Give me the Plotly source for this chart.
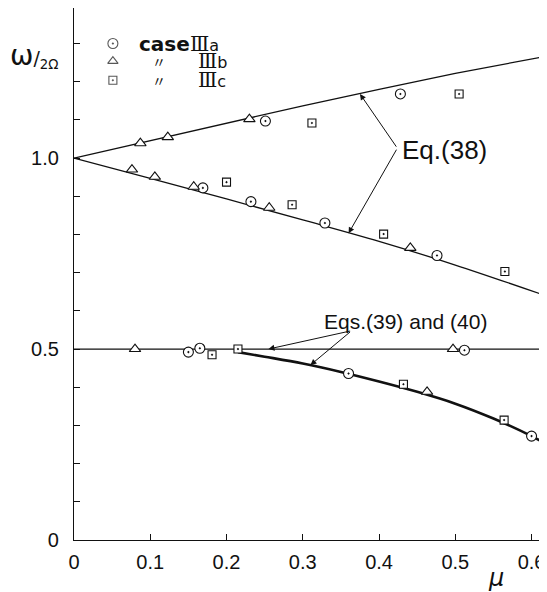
import plotly.graph_objects as go

# ---- theoretical curves ----
eq38_mu = [0, 0.1, 0.2, 0.3, 0.4, 0.5, 0.615]
eq38_upper = [1.0, 1.046, 1.092, 1.137, 1.180, 1.222, 1.265]
eq38_lower = [1.0, 0.947, 0.893, 0.838, 0.782, 0.720, 0.642]

half_mu = [0, 0.615]
half_val = [0.5, 0.5]

eq40_mu = [0.215, 0.25, 0.30, 0.35, 0.40, 0.45, 0.50, 0.55, 0.60, 0.615]
eq40_val = [0.492, 0.480, 0.462, 0.440, 0.415, 0.388, 0.357, 0.318, 0.272, 0.256]

# ---- experimental points ----
case_a_mu = [0.251, 0.428, 0.169, 0.232, 0.329, 0.476, 0.150, 0.165, 0.512, 0.36, 0.600]
case_a_w = [1.097, 1.168, 0.922, 0.886, 0.830, 0.745, 0.492, 0.502, 0.497, 0.436, 0.272]

case_b_mu = [0.087, 0.123, 0.230, 0.076, 0.106, 0.157, 0.256, 0.441, 0.080, 0.497, 0.463]
case_b_w = [1.039, 1.055, 1.102, 0.970, 0.951, 0.925, 0.870, 0.765, 0.500, 0.500, 0.388]

case_c_mu = [0.312, 0.505, 0.200, 0.286, 0.406, 0.565, 0.181, 0.215, 0.432, 0.564]
case_c_w = [1.092, 1.168, 0.937, 0.878, 0.801, 0.703, 0.485, 0.500, 0.408, 0.314]

legend_mu = [0.051, 0.051, 0.051]
legend_w = [1.300, 1.254, 1.204]

x_ticks = [0, 0.1, 0.2, 0.3, 0.4, 0.5, 0.6]
x_ticktext = ["0", "0.1", "0.2", "0.3", "0.4", "0.5", "0.6"]
y_ticks = [round(i * 0.1, 1) for i in range(14)]
y_ticktext = ["0", "", "", "", "", "0.5", "", "", "", "", "1.0", "", "", ""]

FONT = "Liberation Sans"
BLACK = "#111"

fig = go.Figure()

line_thin = dict(color=BLACK, width=1.3)
fig.add_trace(go.Scatter(x=eq38_mu, y=eq38_upper, mode="lines", line=line_thin, hoverinfo="skip"))
fig.add_trace(go.Scatter(x=eq38_mu, y=eq38_lower, mode="lines", line=dict(color=BLACK, width=1.3, shape="spline"), hoverinfo="skip"))
fig.add_trace(go.Scatter(x=half_mu, y=half_val, mode="lines", line=dict(color=BLACK, width=1.2), hoverinfo="skip"))
fig.add_trace(go.Scatter(x=eq40_mu, y=eq40_val, mode="lines", line=dict(color=BLACK, width=2.6, shape="spline"), hoverinfo="skip"))

mk_line = dict(color=BLACK, width=1.1)
fig.add_trace(go.Scatter(x=case_a_mu, y=case_a_w, mode="markers",
                         marker=dict(symbol="circle-dot", size=10, color="white", line=mk_line)))
fig.add_trace(go.Scatter(x=case_b_mu, y=case_b_w, mode="markers",
                         marker=dict(symbol="triangle-up", size=10, color="white", line=mk_line)))
fig.add_trace(go.Scatter(x=case_c_mu, y=case_c_w, mode="markers",
                         marker=dict(symbol="square-dot", size=8, color="white", line=mk_line)))

# legend markers
fig.add_trace(go.Scatter(x=legend_mu, y=legend_w, mode="markers",
                         marker=dict(symbol=["circle-dot", "triangle-up", "square-dot"], size=[10, 9, 8],
                                     color="white", line=mk_line)))

annotations = []
# legend text
annotations.append(dict(x=0.082, y=legend_w[0], xref="x", yref="y", xanchor="left", yanchor="middle",
                        text="<b>case</b>", showarrow=False, font=dict(family="DejaVu Sans", size=20, color=BLACK)))
for w, sfx in zip(legend_w, ["a", "b", "c"]):
    xx = 0.150 if sfx == "a" else 0.160
    annotations.append(dict(x=xx, y=w, xref="x", yref="y", xanchor="left", yanchor="middle",
                            text="Ⅲ<span style='font-family:DejaVu Sans;font-size:16px'>" + sfx + "</span>",
                            showarrow=False, font=dict(family="DejaVu Serif", size=20, color=BLACK)))
for w in legend_w[1:]:
    annotations.append(dict(x=0.112, y=w, xref="x", yref="y", xanchor="center", yanchor="middle",
                            text="〃", showarrow=False, font=dict(family="Noto Sans CJK JP", size=14, color=BLACK)))

# Eq.(38)
annotations.append(dict(x=0.428, y=1.021, xref="x", yref="y", xanchor="left", yanchor="middle",
                        text="Eq.(38)", showarrow=False, font=dict(family=FONT, size=26, color=BLACK)))
for hx, hy in [(0.375, 1.168), (0.36, 0.803)]:
    annotations.append(dict(x=hx, y=hy, ax=0.424, ay=1.026, xref="x", yref="y", axref="x", ayref="y",
                            text="", showarrow=True, arrowhead=2, arrowsize=1.2, arrowwidth=1, arrowcolor=BLACK))

# Eqs.(39) and (40)
annotations.append(dict(x=0.325, y=0.572, xref="x", yref="y", xanchor="left", yanchor="middle",
                        text="Eqs.(39) and (40)", showarrow=False, font=dict(family=FONT, size=21, color=BLACK)))
for hx, hy in [(0.255, 0.5), (0.31, 0.458)]:
    annotations.append(dict(x=hx, y=hy, ax=0.364, ay=0.548, xref="x", yref="y", axref="x", ayref="y",
                            text="", showarrow=True, arrowhead=2, arrowsize=1.2, arrowwidth=1, arrowcolor=BLACK))

# axis titles (paper coords; plot area is 469 x 532 px)
annotations.append(dict(x=-0.141, y=0.91, xref="paper", yref="paper", xanchor="left", yanchor="middle",
                        text="ω<span style='font-size:19px'>/<sub>2Ω</sub></span>", showarrow=False,
                        font=dict(family="DejaVu Sans", size=28, color=BLACK)))
annotations.append(dict(x=0.90, y=-0.072, xref="paper", yref="paper", xanchor="center", yanchor="middle",
                        text="<i>μ</i>", showarrow=False, font=dict(family="DejaVu Sans", size=24, color=BLACK)))

# The page adds an 8 px body margin, so the figure is 8 px smaller and margins shifted.
fig.update_layout(
    width=539, height=584,
    margin=dict(l=66, r=4, t=0, b=52),
    paper_bgcolor="white", plot_bgcolor="white",
    showlegend=False,
    font=dict(family=FONT, size=20, color=BLACK),
    annotations=annotations,
    xaxis=dict(range=[0, 0.615], tickvals=x_ticks, ticktext=x_ticktext, ticks="inside", ticklen=6,
               tickcolor=BLACK, tickwidth=1.2, showline=True, linecolor=BLACK, linewidth=1.2,
               showgrid=False, zeroline=False, ticklabelstandoff=4, ticklabeloverflow="allow"),
    yaxis=dict(range=[0, 1.393], tickvals=y_ticks, ticktext=y_ticktext, ticks="inside", ticklen=6,
               tickcolor=BLACK, tickwidth=1.2, showline=True, linecolor=BLACK, linewidth=1.2,
               showgrid=False, zeroline=False, ticklabelstandoff=10),
)

fig.write_html("out.html")
